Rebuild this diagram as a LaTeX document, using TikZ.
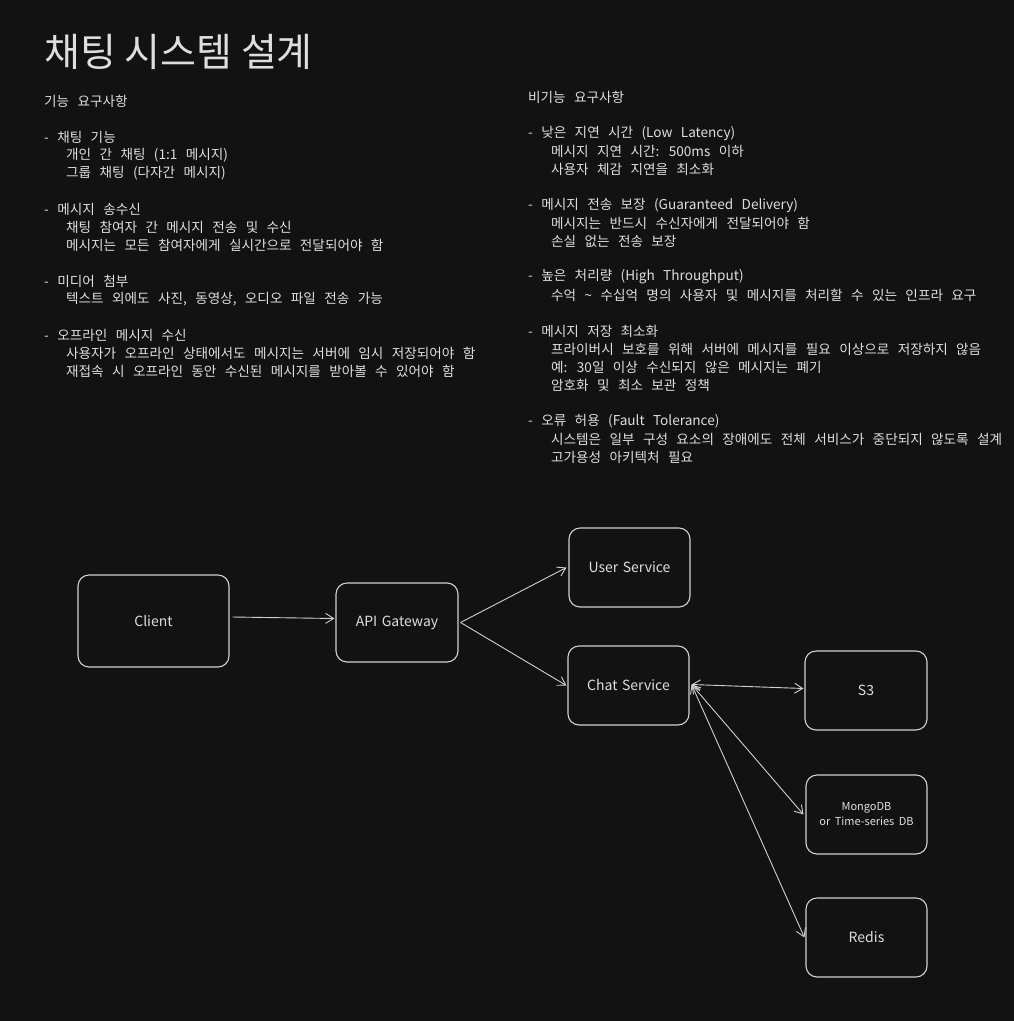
\documentclass[tikz,border=0pt]{standalone}
\usepackage{fontspec}
\setmainfont{Noto Sans CJK KR}
\usetikzlibrary{arrows.meta}
\definecolor{bg}{HTML}{121212}
\definecolor{ink}{HTML}{DEDEDE}
\definecolor{strokec}{HTML}{D0D0D0}
\tikzset{
  line/.style={anchor=west, inner sep=0pt, text=ink, font=\fontsize{13.6}{16}\selectfont,
    execute at begin node={\spaceskip=8.4pt\relax}},
  box/.style={draw=strokec, line width=1.1pt, rounded corners=11pt, text=ink, align=center,
    font=\fontsize{14}{16}\selectfont, inner sep=0pt,
    execute at begin node={\spaceskip=4.5pt\relax}},
  conn/.style={draw=strokec, line width=0.9pt, -{Straight Barb[length=8pt,width=10pt]}},
  bconn/.style={draw=strokec, line width=0.9pt, {Straight Barb[length=8pt,width=10pt]}-{Straight Barb[length=8pt,width=10pt]}}
}
\begin{document}
\begin{tikzpicture}[x=1pt,y=-1pt]
\fill[bg] (0,0) rectangle (1014,1021);
\useasboundingbox (0,0) rectangle (1014,1021);

\node[anchor=west, inner sep=0pt, text=ink, font=\fontsize{39}{46}\selectfont] (title) at (44,52) {채팅 시스템 설계};

% left column
\node[line] (l1) at (44,101) {기능 요구사항};
\node[line] (l2) at (44,137) {- 채팅 기능};
\node[line] (l3) at (66,155) {개인 간 채팅 (1:1 메시지)};
\node[line] (l4) at (66,173) {그룹 채팅 (다자간 메시지)};
\node[line] (l5) at (44,209) {- 메시지 송수신};
\node[line] (l6) at (66,227) {채팅 참여자 간 메시지 전송 및 수신};
\node[line] (l7) at (66,245) {메시지는 모든 참여자에게 실시간으로 전달되어야 함};
\node[line] (l8) at (44,281) {- 미디어 첨부};
\node[line] (l9) at (66,299) {텍스트 외에도 사진, 동영상, 오디오 파일 전송 가능};
\node[line] (l10) at (44,335) {- 오프라인 메시지 수신};
\node[line] (l11) at (66,353) {사용자가 오프라인 상태에서도 메시지는 서버에 임시 저장되어야 함};
\node[line] (l12) at (66,371) {재접속 시 오프라인 동안 수신된 메시지를 받아볼 수 있어야 함};

% right column
\node[line] (r1) at (528,97) {비기능 요구사항};
\node[line] (r2) at (528,133) {- 낮은 지연 시간 (Low Latency)};
\node[line] (r3) at (551,151) {메시지 지연 시간: 500ms 이하};
\node[line] (r4) at (551,169) {사용자 체감 지연을 최소화};
\node[line] (r5) at (528,205) {- 메시지 전송 보장 (Guaranteed Delivery)};
\node[line] (r6) at (551,223) {메시지는 반드시 수신자에게 전달되어야 함};
\node[line] (r7) at (551,241) {손실 없는 전송 보장};
\node[line] (r8) at (528,277) {- 높은 처리량 (High Throughput)};
\node[line] (r9) at (551,295) {수억 \textasciitilde{} 수십억 명의 사용자 및 메시지를 처리할 수 있는 인프라 요구};
\node[line] (r10) at (528,331) {- 메시지 저장 최소화};
\node[line] (r11) at (551,349) {프라이버시 보호를 위해 서버에 메시지를 필요 이상으로 저장하지 않음};
\node[line] (r12) at (551,367) {예: 30일 이상 수신되지 않은 메시지는 폐기};
\node[line] (r13) at (551,385) {암호화 및 최소 보관 정책};
\node[line] (r14) at (528,421) {- 오류 허용 (Fault Tolerance)};
\node[line] (r15) at (551,439) {시스템은 일부 구성 요소의 장애에도 전체 서비스가 중단되지 않도록 설계};
\node[line] (r16) at (551,457) {고가용성 아키텍처 필요};

% boxes
\node[box, minimum width=151pt, minimum height=92pt] (client) at (153.5,621) {Client};
\node[box, minimum width=122pt, minimum height=79pt] (api) at (397,622.5) {API Gateway};
\node[box, minimum width=121pt, minimum height=79pt] (user) at (629.5,567.5) {User Service};
\node[box, minimum width=121pt, minimum height=79pt] (chat) at (628.5,685.5) {Chat Service};
\node[box, minimum width=122pt, minimum height=79pt] (s3) at (866,690.5) {S3};
\node[box, minimum width=121pt, minimum height=79pt, font=\fontsize{11}{15}\selectfont] (mongo) at (866.5,814.5) {MongoDB\\or Time-series DB};
\node[box, minimum width=121pt, minimum height=79pt] (redis) at (866.5,937.5) {Redis};

% connectors
\draw[conn] ([xshift=3pt,yshift=4pt]client.east) -- ([xshift=-1pt,yshift=4pt]api.west);
\draw[conn] ([xshift=2pt]api.east) -- ([xshift=-2pt]user.west);
\draw[conn] ([xshift=2pt]api.east) -- ([xshift=-1pt]chat.west);
\draw[bconn] ([xshift=2pt,yshift=1pt]chat.east) -- ([xshift=-1pt,yshift=2pt]s3.west);
\draw[bconn] ([xshift=2pt,yshift=1pt]chat.east) -- ([xshift=-2pt]mongo.west);
\draw[bconn] ([xshift=2pt,yshift=1pt]chat.east) -- ([xshift=-1pt]redis.west);
\end{tikzpicture}
\end{document}
